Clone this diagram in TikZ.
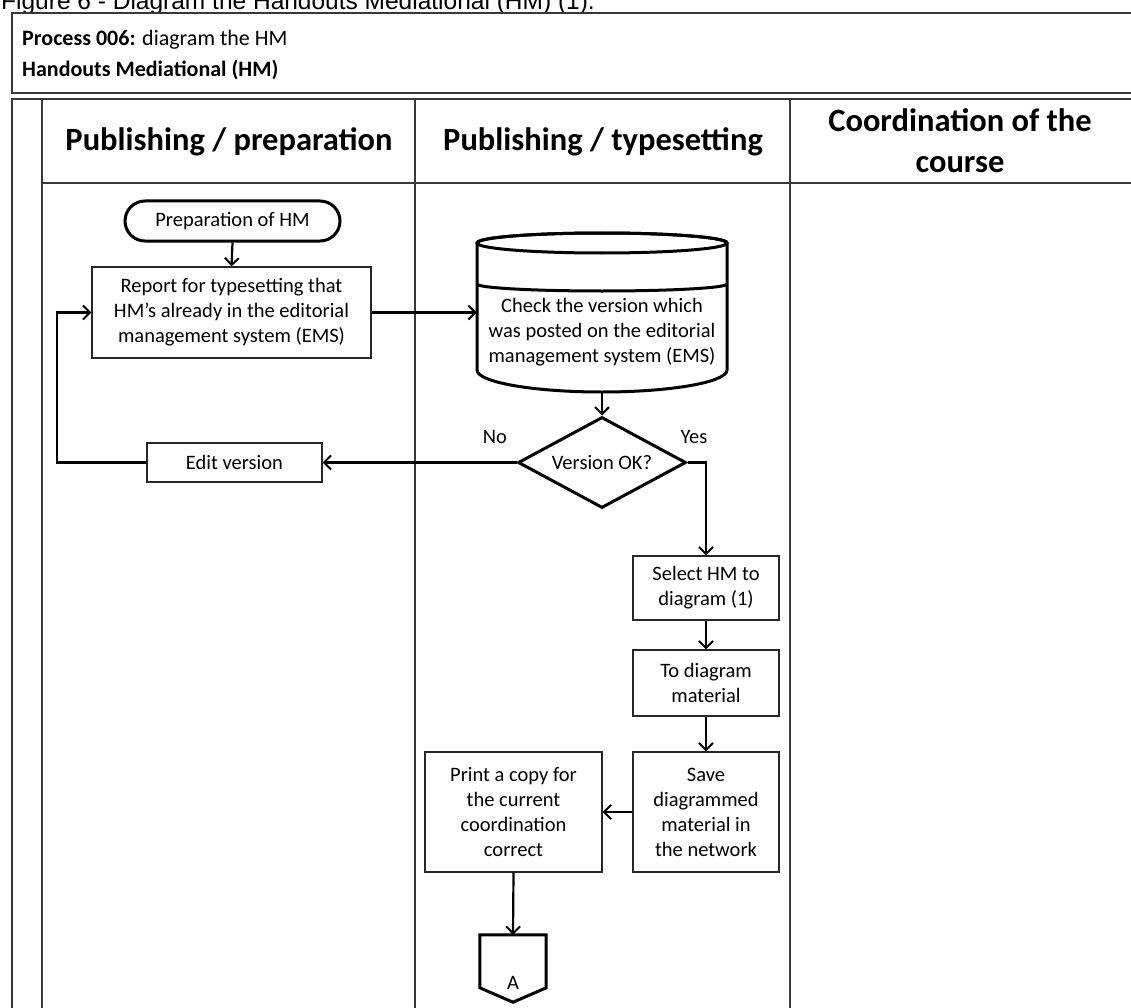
\documentclass[tikz,border=0pt]{standalone}
\usepackage{fontspec}
\setmainfont{Carlito}
\newfontfamily\capfont{Liberation Sans}
\usetikzlibrary{shapes.geometric,arrows.meta,calc}
\tikzset{
  tline/.style={draw=black!78, line width=1.8pt},
  boxtxt/.style={font=\fontsize{20.5}{25}\selectfont, align=center},
  procbox/.style={boxtxt, draw=black!85, line width=1.3pt, fill=white, inner sep=0pt},
  thickshape/.style={draw=black, line width=3pt, fill=white},
  conn/.style={draw=black, line width=2.2pt, -{Straight Barb[length=7pt,width=14pt,line width=2pt]}},
  hdr/.style={font=\fontsize{32.5}{41}\selectfont\bfseries, align=center},
  lbl/.style={font=\fontsize{20.5}{24}\selectfont}
}
\begin{document}
\begin{tikzpicture}[x=1pt,y=-1pt]
\useasboundingbox (0,0) rectangle (1131,1008);
\fill[white] (0,0) rectangle (1131,1008);

% caption (partly cut off at top)
\node[anchor=base west, inner sep=0pt, font=\capfont\fontsize{24.5}{28}\selectfont] (caption) at (1,10) {Figure 6 - Diagram the Handouts Mediational (HM) (1).};

% title box
\draw[tline] (12,13) rectangle (1145,93);
\node[anchor=base west, inner sep=0pt, font=\fontsize{22}{26}\selectfont] (t1) at (22,46) {\textbf{Process 006:} diagram the HM};
\node[anchor=base west, inner sep=0pt, font=\fontsize{22}{26}\selectfont\bfseries] (t2) at (22,77) {Handouts Mediational (HM)};

% swimlane table
\draw[tline] (12,1015) -- (12,99) -- (1145,99);
\draw[tline] (42,99) -- (42,1015);
\draw[tline] (42,183) -- (1145,183);
\draw[tline] (415,99) -- (415,1015);
\draw[tline] (790,99) -- (790,1015);

\node[hdr] (h1) at (229,142) {Publishing / preparation};
\node[hdr] (h2) at (603,142) {Publishing / typesetting};
\node[hdr] (h3) at (960,141) {Coordination of the\\course};

% start terminator
\node[thickshape, boxtxt, minimum width=215pt, minimum height=40pt, rounded corners=20pt, inner sep=0pt] (term) at (232.5,221) {Preparation of HM};

% report box
\node[procbox, minimum width=279pt, minimum height=91pt] (report) at (231.5,312.5) {Report for typesetting that\\HM's already in the editorial\\management system (EMS)};

% cylinder (database)
\node[minimum width=250pt, minimum height=159pt, inner sep=0pt] (cyl) at (602,312.5) {};
\filldraw[thickshape] (477,243) -- (477,370) arc[start angle=180, end angle=360, x radius=125pt, y radius=22pt] -- (727,243) arc[start angle=0, end angle=180, x radius=125pt, y radius=10pt] -- cycle;
\draw[line width=3pt] (602,243) ellipse [x radius=125pt, y radius=10pt];
\draw[line width=3pt] (477,284) arc[start angle=180, end angle=360, x radius=125pt, y radius=7pt];
\node[boxtxt] (cyltext) at (602,332) {Check the version which\\was posted on the editorial\\management system (EMS)};

% decision
\node[thickshape, diamond, aspect=1.85, minimum width=168pt, minimum height=91pt, inner sep=0pt, boxtxt] (dia) at (602,462.5) {Version OK?};
\node[lbl] (no) at (495,437) {No};
\node[lbl] (yes) at (694,437) {Yes};

% edit version
\node[procbox, minimum width=175pt, minimum height=39pt] (edit) at (234.5,462.5) {Edit version};

% right column boxes
\node[procbox, minimum width=146pt, minimum height=64pt] (select) at (706,588) {Select HM to\\diagram (1)};
\node[procbox, minimum width=146pt, minimum height=66pt] (todiag) at (706,683) {To diagram\\material};
\node[procbox, minimum width=146pt, minimum height=120pt] (save) at (706,812) {Save\\diagrammed\\material in\\the network};
\node[procbox, minimum width=177pt, minimum height=120pt] (print) at (513.5,812) {Print a copy for\\the current\\coordination\\correct};

% off-page connector
\node[minimum width=66pt, minimum height=67pt, inner sep=0pt] (offp) at (513,968.5) {};
\draw[line width=3pt, line join=miter, fill=white] (offp.north west) -- (offp.north east) -- ($(offp.north east)+(0,53)$) -- (offp.south) -- ($(offp.north west)+(0,53)$) -- cycle;
\node[boxtxt] (offtext) at (513,983) {A};

% connectors
\draw[conn] (term.south) -- (report.north);
\draw[conn] (report.east) -- (cyl.west);
\draw[conn] (cyl.south) -- (dia.north);
\draw[conn] (dia.west) -- (edit.east);
\coordinate (loopx) at (57,462.5);
\draw[conn] (edit.west) -- (loopx) |- (report.west);
\draw[conn] (dia.east) -| (select.north);
\draw[conn] (select.south) -- (todiag.north);
\draw[conn] (todiag.south) -- (save.north);
\draw[conn] (save.west) -- (print.east);
\draw[conn] (print.south) -- (offp.north);
\end{tikzpicture}
\end{document}
